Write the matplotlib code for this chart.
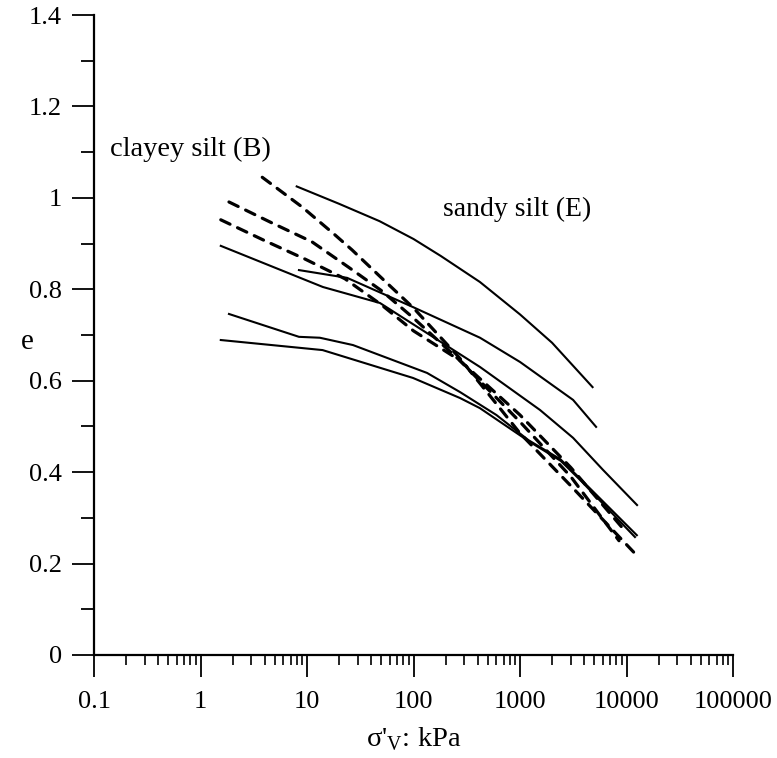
import matplotlib
matplotlib.use("Agg")
import matplotlib.pyplot as plt
from matplotlib.ticker import FixedLocator, FixedFormatter, LogLocator, NullFormatter

plt.rcParams['font.family'] = ['Liberation Serif', 'DejaVu Serif']
plt.rcParams['mathtext.fontset'] = 'custom'
plt.rcParams['mathtext.rm'] = 'Liberation Serif'

# Solid curves (sandy silt E)
s1_x = [8, 20, 48, 100, 180, 420, 1000, 2000, 4800]
s1_e = [1.025, 0.987, 0.949, 0.91, 0.873, 0.816, 0.745, 0.683, 0.586]
s2_x = [8.4, 23.8, 99, 421, 1000, 1995, 3150, 5180]
s2_e = [0.842, 0.825, 0.761, 0.694, 0.641, 0.591, 0.558, 0.499]
s3_x = [1.55, 14.1, 48.4, 100, 421, 1540, 3150, 6010, 12560]
s3_e = [0.895, 0.805, 0.770, 0.723, 0.630, 0.536, 0.475, 0.405, 0.328]
s4_x = [1.85, 8.4, 13.2, 27, 134, 274, 600, 1200, 2400, 3700, 12500]
s4_e = [0.746, 0.696, 0.694, 0.678, 0.617, 0.575, 0.525, 0.470, 0.428, 0.385, 0.262]
s5_x = [1.55, 14, 99, 274, 420, 1200, 2400, 3700, 12000]
s5_e = [0.689, 0.667, 0.606, 0.562, 0.540, 0.468, 0.425, 0.382, 0.258]

# Dashed curves (clayey silt B)
d1_x = [3.8, 9, 18.3, 26.5, 50, 100, 270, 1000, 3000, 12000]
d1_e = [1.045, 0.98, 0.919, 0.886, 0.825, 0.759, 0.65, 0.485, 0.37, 0.222]
d2_x = [1.85, 4.7, 11.1, 24.3, 50, 100, 270, 1000, 3000, 8500]
d2_e = [0.991, 0.945, 0.904, 0.849, 0.797, 0.737, 0.645, 0.51, 0.39, 0.25]
d3_x = [1.55, 4.04, 9.6, 22.7, 50, 100, 270, 1000, 3000, 9000]
d3_e = [0.952, 0.906, 0.866, 0.823, 0.766, 0.709, 0.645, 0.525, 0.41, 0.28]

x_ticks = [0.1, 1, 10, 100, 1000, 10000, 100000]
x_labels = ["0.1", "1", "10", "100", "1000", "10000", "100000"]
y_ticks = [0, 0.2, 0.4, 0.6, 0.8, 1.0, 1.2, 1.4]
y_labels = ["0", "0.2", "0.4", "0.6", "0.8", "1", "1.2", "1.4"]
y_minor = [0.1, 0.3, 0.5, 0.7, 0.9, 1.1, 1.3]

fig = plt.figure(figsize=(7.77, 7.58), dpi=100)
ax = fig.add_axes([0.121, 0.1359, 0.8224, 0.8443])

for xs, es in [(s1_x, s1_e), (s2_x, s2_e), (s3_x, s3_e), (s4_x, s4_e), (s5_x, s5_e)]:
    ax.plot(xs, es, color='black', lw=1.5, solid_joinstyle='round')
for xs, es in [(d1_x, d1_e), (d2_x, d2_e), (d3_x, d3_e)]:
    ax.plot(xs, es, color='black', lw=2.3, dashes=(3.2, 2.6), dash_capstyle='round')

ax.set_xscale('log')
ax.set_xlim(0.1, 100000)
ax.set_ylim(0, 1.4)

ax.xaxis.set_major_locator(FixedLocator(x_ticks))
ax.xaxis.set_major_formatter(FixedFormatter(x_labels))
ax.xaxis.set_minor_locator(LogLocator(base=10, subs=[2, 3, 4, 5, 6, 7, 8, 9], numticks=20))
ax.xaxis.set_minor_formatter(NullFormatter())
ax.yaxis.set_major_locator(FixedLocator(y_ticks))
ax.yaxis.set_major_formatter(FixedFormatter(y_labels))
ax.yaxis.set_minor_locator(FixedLocator(y_minor))

for s in ['top', 'right']:
    ax.spines[s].set_visible(False)
for s in ['left', 'bottom']:
    ax.spines[s].set_linewidth(1.6)

ax.tick_params(axis='both', which='major', direction='out', length=16, width=1.3, labelsize=19)
ax.tick_params(axis='x', which='minor', direction='out', length=7, width=1.2)
ax.tick_params(axis='y', which='minor', direction='out', length=9.5, width=1.3)
ax.tick_params(axis='x', which='major', pad=10)
ax.tick_params(axis='y', which='major', pad=7)

ax.set_xlabel(r"σ'$_{\mathrm{V}}$: kPa", fontsize=20.5, labelpad=9)
ax.set_ylabel("e", fontsize=21, rotation=0, ha='center', va='center')
ax.yaxis.set_label_coords(-0.105, 0.489)

ax.text(0.141, 1.105, "clayey silt (B)", fontsize=20.5, ha='left', va='center')
ax.text(189, 0.974, "sandy silt (E)", fontsize=20, ha='left', va='center')

fig.savefig("out.png", dpi=100)
